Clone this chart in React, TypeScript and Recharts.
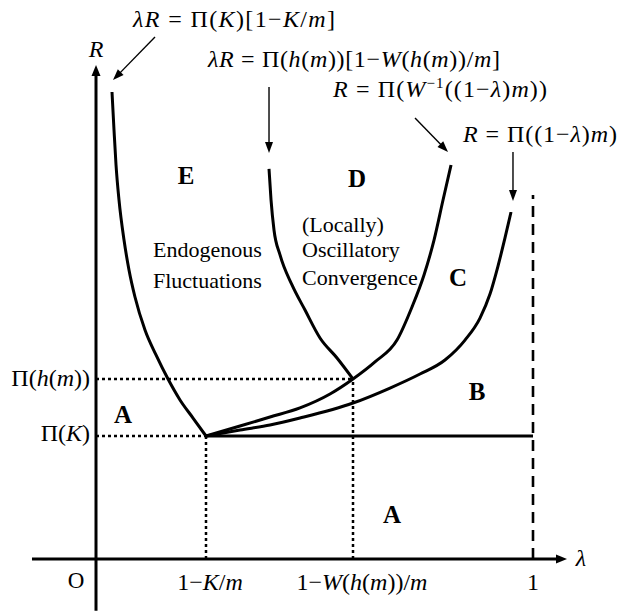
import { ComposedChart, Line, XAxis, YAxis, ReferenceLine, ReferenceDot } from "recharts";

const W = 619;
const H = 612;
const LAM_DOMAIN = [-0.2197, 1.1968];
const R_DOMAIN = [-0.4309, 4.5447];

// key points of the diagram
const KINK = { lam: 0.2517, R: 1 }; // (1-K/m, Π(K))
const CROSS = { lam: 0.5881, R: 1.463 }; // (1-W(h(m))/m, Π(h(m)))
const DASH_TOP = 2.96;

// λR = Π(K)[1-K/m]
const eCurve = [
  { lam: 0.0366, R: 3.797 }, { lam: 0.0412, R: 3.488 }, { lam: 0.0458, R: 3.203 },
  { lam: 0.0526, R: 2.919 }, { lam: 0.0641, R: 2.593 }, { lam: 0.0755, R: 2.35 },
  { lam: 0.0892, R: 2.13 }, { lam: 0.1121, R: 1.862 }, { lam: 0.1373, R: 1.659 },
  { lam: 0.1648, R: 1.463 }, { lam: 0.1922, R: 1.293 }, { lam: 0.222, R: 1.146 },
  { lam: 0.2517, R: 1.0 },
];

// λR = Π(h(m))[1-W(h(m))/m]
const dCurve = [
  { lam: 0.3959, R: 3.171 }, { lam: 0.4005, R: 2.919 }, { lam: 0.4073, R: 2.675 },
  { lam: 0.4211, R: 2.472 }, { lam: 0.4485, R: 2.228 }, { lam: 0.4783, R: 2.024 },
  { lam: 0.5126, R: 1.797 }, { lam: 0.5515, R: 1.634 }, { lam: 0.5881, R: 1.463 },
];

// R = Π(W^-1((1-λ)m))
const wCurve = [
  { lam: 0.2517, R: 1.0 }, { lam: 0.3295, R: 1.081 }, { lam: 0.3982, R: 1.154 },
  { lam: 0.4668, R: 1.228 }, { lam: 0.5355, R: 1.341 }, { lam: 0.5881, R: 1.463 },
  { lam: 0.6384, R: 1.602 }, { lam: 0.6888, R: 1.78 }, { lam: 0.7231, R: 2.049 },
  { lam: 0.7506, R: 2.309 }, { lam: 0.7735, R: 2.593 }, { lam: 0.7941, R: 2.919 },
  { lam: 0.8124, R: 3.203 },
];

// R = Π((1-λ)m)
const pCurve = [
  { lam: 0.2517, R: 1.0 }, { lam: 0.3295, R: 1.049 }, { lam: 0.3982, R: 1.089 },
  { lam: 0.4668, R: 1.146 }, { lam: 0.5881, R: 1.268 }, { lam: 0.6728, R: 1.39 },
  { lam: 0.7414, R: 1.504 }, { lam: 0.7986, R: 1.618 }, { lam: 0.8444, R: 1.78 },
  { lam: 0.8787, R: 1.959 }, { lam: 0.9016, R: 2.154 }, { lam: 0.9199, R: 2.382 },
  { lam: 0.9359, R: 2.61 }, { lam: 0.9497, R: 2.821 },
];

// pointer arrows from formulas to curves
const pointers = [
  { from: { lam: 0.135, R: 4.244 }, to: { lam: 0.0389, R: 3.894 } },
  { from: { lam: 0.3959, R: 3.837 }, to: { lam: 0.3959, R: 3.301 } },
  { from: { lam: 0.73, R: 3.585 }, to: { lam: 0.8055, R: 3.309 } },
  { from: { lam: 0.9542, R: 3.309 }, to: { lam: 0.9542, R: 2.911 } },
];

type Part = { t: string; i?: boolean; sup?: boolean };
type Lbl = {
  lam: number; R: number; parts: Part[];
  anchor?: "start" | "middle" | "end"; size?: number; len?: number;
};

const it = (t: string): Part => ({ t, i: true });
const rm = (t: string): Part => ({ t });

const formulas: Lbl[] = [
  { lam: 0.0847, R: 4.325, len: 202, parts: [it("λR"), rm(" = Π("), it("K"), rm(")[1−"), it("K"), rm("/"), it("m"), rm("]")] },
  {
    lam: 0.2563, R: 4.0, len: 292,
    parts: [it("λR"), rm(" = Π("), it("h"), rm("("), it("m"), rm("))[1−"), it("W"), rm("("), it("h"), rm("("), it("m"), rm("))/"), it("m"), rm("]")],
  },
  {
    lam: 0.5423, R: 3.756, len: 214,
    parts: [it("R"), rm(" = Π("), it("W"), { t: "−1", sup: true }, rm("((1−"), it("λ"), rm(")"), it("m"), rm("))")],
  },
  { lam: 0.8398, R: 3.39, len: 154, parts: [it("R"), rm(" = Π((1−"), it("λ"), rm(")"), it("m"), rm(")")] },
];

const regionLabels: Lbl[] = [
  { lam: 0.2059, R: 3.049, parts: [rm("E")] },
  { lam: 0.5973, R: 3.024, parts: [rm("D")] },
  { lam: 0.8284, R: 2.22, parts: [rm("C")] },
  { lam: 0.8719, R: 1.293, parts: [rm("B")] },
  { lam: 0.0618, R: 1.106, parts: [rm("A")] },
  { lam: 0.6773, R: 0.293, parts: [rm("A")] },
];

const notes: Lbl[] = [
  { lam: 0.1304, R: 2.455, parts: [rm("Endogenous")] },
  { lam: 0.1304, R: 2.203, parts: [rm("Fluctuations")] },
  { lam: 0.4714, R: 2.659, parts: [rm("(Locally)")] },
  { lam: 0.4714, R: 2.455, parts: [rm("Oscillatory")] },
  { lam: 0.4714, R: 2.228, parts: [rm("Convergence")] },
];

const axisLabels: Lbl[] = [
  { lam: 0, R: 4.081, parts: [it("R")] },
  { lam: 1.1098, R: -0.057, parts: [it("λ")] },
  { lam: -0.0458, R: -0.236, size: 23, parts: [rm("O")] },
  { lam: 0.2609, R: -0.252, parts: [rm("1−"), it("K"), rm("/"), it("m")] },
  { lam: 0.6087, R: -0.252, parts: [rm("1−"), it("W"), rm("("), it("h"), rm("("), it("m"), rm("))/"), it("m")] },
  { lam: 1.0, R: -0.252, parts: [rm("1")] },
  { lam: -0.0137, R: 1.4065, anchor: "end", parts: [rm("Π("), it("h"), rm("("), it("m"), rm("))")] },
  { lam: -0.0137, R: 0.9593, anchor: "end", parts: [rm("Π("), it("K"), rm(")")] },
];

const FONT = "'Liberation Serif', 'Times New Roman', serif";

function ArrowLine(p: any) {
  const { x1, y1, x2, y2, sw, head, half } = p;
  const dx = x2 - x1;
  const dy = y2 - y1;
  const len = Math.hypot(dx, dy) || 1;
  const ux = dx / len;
  const uy = dy / len;
  const bx = x2 - ux * head;
  const by = y2 - uy * head;
  const pts = `${x2},${y2} ${bx - uy * half},${by + ux * half} ${bx + uy * half},${by - ux * half}`;
  return (
    <g>
      <line x1={x1} y1={y1} x2={bx + ux} y2={by + uy} stroke="#000" strokeWidth={sw} />
      <polygon points={pts} fill="#000" />
    </g>
  );
}

function renderLabel(l: Lbl, size: number, bold: boolean, anchor: string) {
  return (p: any) => {
    let shift = 0;
    return (
      <text
        x={p.cx}
        y={p.cy}
        textAnchor={l.anchor ?? anchor}
        fontFamily={FONT}
        fontSize={l.size ?? size}
        fontWeight={bold ? "bold" : "normal"}
        fill="#000"
        textLength={l.len}
        lengthAdjust={l.len ? "spacing" : undefined}
      >
        {l.parts.map((pt, i) => {
          let dy = 0;
          if (pt.sup) {
            dy = -9 - shift;
            shift = -9;
          } else if (shift !== 0) {
            dy = -shift;
            shift = 0;
          }
          return (
            <tspan key={i} dy={dy || undefined} fontStyle={pt.i ? "italic" : "normal"} fontSize={pt.sup ? 15 : undefined}>
              {pt.t}
            </tspan>
          );
        })}
      </text>
    );
  };
}

export default function App() {
  const dotted = { stroke: "#000", strokeWidth: 2.5, strokeDasharray: "3 3" };
  const solid = { stroke: "#000", strokeWidth: 3 };
  return (
    <div style={{ position: "absolute", left: 0, top: 0, width: W, height: H, background: "#fff" }}>
      <ComposedChart width={W} height={H} margin={{ top: 0, right: 0, bottom: 0, left: 0 }}>
        <XAxis type="number" dataKey="lam" domain={LAM_DOMAIN} allowDataOverflow hide />
        <YAxis type="number" dataKey="R" domain={R_DOMAIN} allowDataOverflow hide />

        {/* axes */}
        <ReferenceLine
          segment={[{ x: -0.1465, y: 0 }, { x: 1.0778, y: 0 }]}
          shape={(p: any) => <ArrowLine {...p} sw={3} head={11} half={4.5} />}
        />
        <ReferenceLine
          segment={[{ x: 0, y: -0.42 }, { x: 0, y: 4.0163 }]}
          shape={(p: any) => <ArrowLine {...p} sw={3} head={11} half={4.5} />}
        />

        {/* guide lines */}
        <ReferenceLine segment={[{ x: 0, y: KINK.R }, { x: KINK.lam, y: KINK.R }]} {...dotted} />
        <ReferenceLine segment={[{ x: KINK.lam, y: 0 }, { x: KINK.lam, y: KINK.R }]} {...dotted} />
        <ReferenceLine segment={[{ x: 0, y: CROSS.R }, { x: CROSS.lam, y: CROSS.R }]} {...dotted} />
        <ReferenceLine segment={[{ x: CROSS.lam, y: 0 }, { x: CROSS.lam, y: CROSS.R }]} {...dotted} />
        <ReferenceLine segment={[{ x: KINK.lam, y: KINK.R }, { x: 1, y: KINK.R }]} {...solid} />
        <ReferenceLine segment={[{ x: 1, y: 0 }, { x: 1, y: DASH_TOP }]} stroke="#000" strokeWidth={2.6} strokeDasharray="11 7" />

        {/* curves */}
        {[eCurve, dCurve, wCurve, pCurve].map((d, i) => (
          <Line
            key={i}
            data={d}
            dataKey="R"
            type="monotone"
            stroke="#000"
            strokeWidth={3}
            dot={false}
            activeDot={false}
            isAnimationActive={false}
          />
        ))}

        {/* pointers */}
        {pointers.map((a, i) => (
          <ReferenceLine
            key={`p${i}`}
            segment={[{ x: a.from.lam, y: a.from.R }, { x: a.to.lam, y: a.to.R }]}
            shape={(p: any) => <ArrowLine {...p} sw={1.4} head={11} half={4} />}
          />
        ))}

        {formulas.map((l, i) => (
          <ReferenceDot key={`f${i}`} x={l.lam} y={l.R} shape={renderLabel(l, 24, false, "start")} />
        ))}
        {regionLabels.map((l, i) => (
          <ReferenceDot key={`r${i}`} x={l.lam} y={l.R} shape={renderLabel(l, 25, true, "middle")} />
        ))}
        {notes.map((l, i) => (
          <ReferenceDot key={`n${i}`} x={l.lam} y={l.R} shape={renderLabel(l, 22, false, "start")} />
        ))}
        {axisLabels.map((l, i) => (
          <ReferenceDot key={`a${i}`} x={l.lam} y={l.R} shape={renderLabel(l, 24, false, "middle")} />
        ))}
      </ComposedChart>
    </div>
  );
}
